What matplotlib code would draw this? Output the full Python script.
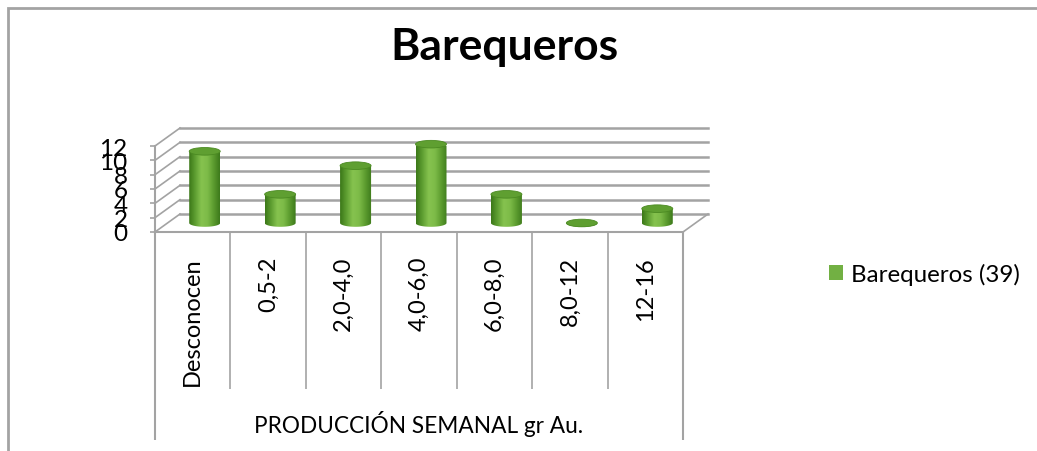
import numpy as np
import matplotlib
matplotlib.use("Agg")
import matplotlib.pyplot as plt
from matplotlib.path import Path
from matplotlib.patches import PathPatch, Ellipse, Rectangle, Patch
from matplotlib.colors import LinearSegmentedColormap

TITLE = "Barequeros"
AXISTITLE = "PRODUCCIÓN SEMANAL gr Au."
SERIESNAME = "Barequeros (39)"
CATEGORIES = ["Desconocen", "0,5-2", "2,0-4,0", "4,0-6,0", "6,0-8,0", "8,0-12", "12-16"]
VALUES = [10, 4, 8, 11, 4, 0, 2]
YTICKS = [0, 2, 4, 6, 8, 10, 12]

W, H = 1037, 452
GREY = "#a3a3a3"
GREEN = "#72b043"

def Main():

	plt.rcParams["font.family"] = ["Lato", "DejaVu Sans"]
	fig = plt.figure(figsize = (W / 100.0, H / 100.0), dpi = 100)

	# front plane of the "3d" plot, the wall and the bars get offsets from it
	ax = fig.add_axes([155.0 / W, 1 - 233.0 / H, 528.0 / W, 86.0 / H])
	n = len(CATEGORIES)
	pxx = 528.0 / n
	pxy = 86.0 / YTICKS[-1]
	DX, DY = 25.0 / pxx, 18.0 / pxy        # back wall offset
	BX, BY = 12.0 / pxx, 9.0 / pxy         # bar offset (middle depth)
	hw = 15.5 / pxx                        # bar half width
	eh = 3.8 / pxy                         # ellipse half height

	# back wall, left wall and floor
	for v in YTICKS:
		ax.plot([-0.5 + DX, n - 0.5 + DX], [v + DY, v + DY], color = GREY, lw = 1.8, clip_on = False, zorder = 1)
		ax.plot([-0.5, -0.5 + DX], [v, v + DY], color = GREY, lw = 1.2, clip_on = False, zorder = 1)
	ax.plot([n - 0.5, n - 0.5 + DX], [0, DY], color = GREY, lw = 1.2, clip_on = False, zorder = 1)

	# cylinders
	cmap = LinearSegmentedColormap.from_list("cyl", ["#3b7818", "#5f9f32", "#86c34f", "#7dbb48", "#5c9c2f", "#3d7a1b"])
	grad = np.linspace(0, 1, 64)[None, :]
	t = np.linspace(np.pi, 2 * np.pi, 40)
	for i, v in enumerate(VALUES):
		cx = i + BX
		top = BY + v
		verts = [(cx - hw, top), (cx - hw, BY)]
		verts += list(zip(cx + hw * np.cos(t), BY + eh * np.sin(t)))
		verts += [(cx + hw, top), (cx - hw, top)]
		body = PathPatch(Path(verts, closed = True), transform = ax.transData)
		im = ax.imshow(grad, extent = [cx - hw, cx + hw, BY - eh, top], cmap = cmap,
			aspect = "auto", interpolation = "bicubic", zorder = 3)
		im.set_clip_path(body)
		ax.add_patch(Ellipse((cx, top), 2 * hw, 2 * eh, facecolor = "#5f9f31",
			edgecolor = "#4b8a22", lw = 0.6, zorder = 4, clip_on = False))

	ax.set_xlim(-0.5, n - 0.5)
	ax.set_ylim(0, YTICKS[-1])

	for s in ["top", "right"]:
		ax.spines[s].set_visible(False)
	for s in ["left", "bottom"]:
		ax.spines[s].set_color(GREY)
		ax.spines[s].set_linewidth(1.5)

	ax.set_yticks(YTICKS)
	ax.set_yticklabels([str(v) for v in YTICKS], fontsize = 17.5)
	ax.tick_params(axis = "y", length = 3.6, width = 1.2, color = GREY, pad = 16)

	# category separators as long ticks
	ax.set_xticks([-0.5, n - 0.5])
	ax.set_xticks(np.arange(0.5, n - 1, 1.0), minor = True)
	ax.tick_params(axis = "x", which = "major", length = 150, width = 1.5, color = GREY, labelbottom = False)
	ax.tick_params(axis = "x", which = "minor", length = 113, width = 1.2, color = GREY, labelbottom = False)

	for i, lab in enumerate(CATEGORIES):
		ax.text(i, -24.0 / 86, lab, transform = ax.get_xaxis_transform(), rotation = 90,
			ha = "center", va = "top", fontsize = 17)

	fig.text(419.0 / W, 1 - 424.0 / H, AXISTITLE, ha = "center", va = "center", fontsize = 16.3)
	fig.text(504.0 / W, 1 - 47.0 / H, TITLE, ha = "center", va = "center", fontsize = 32, fontweight = "bold")

	fig.legend(handles = [Patch(facecolor = GREEN)], labels = [SERIESNAME], loc = "center left",
		bbox_to_anchor = (829.0 / W, 1 - 275.0 / H), frameon = False, borderpad = 0, borderaxespad = 0,
		handlelength = 0.58, handleheight = 0.58, handletextpad = 0.32, fontsize = 17.4)

	# chart border
	fig.add_artist(Rectangle((8.0 / W, -0.1), 1.2, 1.1 - 9.0 / H, transform = fig.transFigure,
		fill = False, edgecolor = GREY, lw = 2))

	fig.savefig("out.png", dpi = 100)
	plt.close()

if __name__ == "__main__":
	Main()
